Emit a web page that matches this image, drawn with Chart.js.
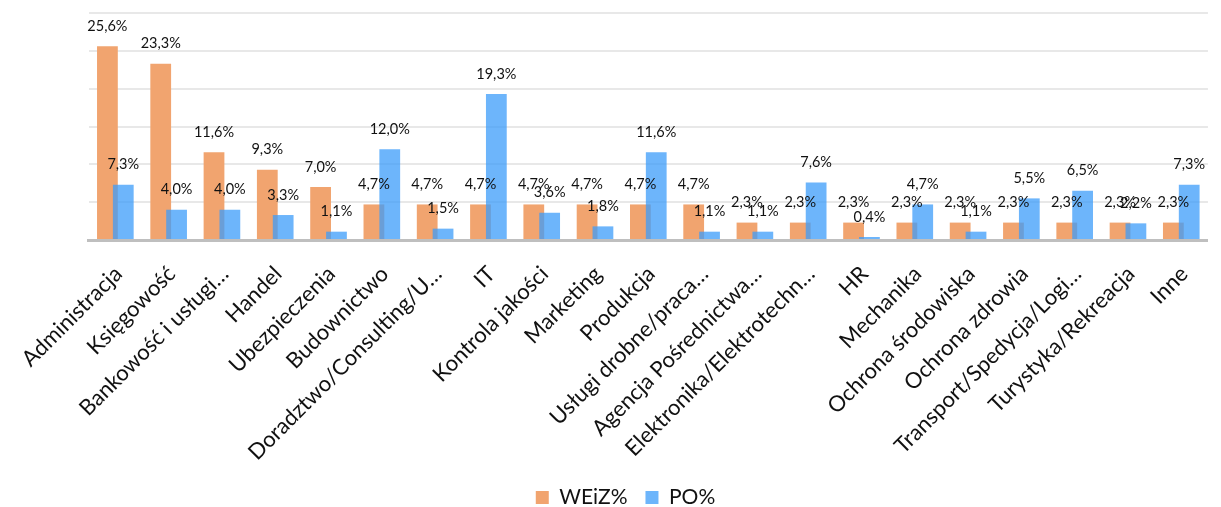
<!DOCTYPE html>
<html>
<head>
<meta charset="utf-8">
<script src="https://cdn.jsdelivr.net/npm/chart.js@4.4.1/dist/chart.umd.min.js"></script>
<style>
  html, body { margin: 0; padding: 0; background: #ffffff; }
  #wrap { width: 1221px; height: 507px; }
</style>
</head>
<body>
<div id="wrap"><canvas id="c" width="1221" height="507"></canvas></div>
<script>
const categories = [
  'Administracja', 'Księgowość', 'Bankowość i usługi…', 'Handel', 'Ubezpieczenia',
  'Budownictwo', 'Doradztwo/Consulting/U…', 'IT', 'Kontrola jakości', 'Marketing',
  'Produkcja', 'Usługi drobne/praca…', 'Agencja Pośrednictwa…', 'Elektronika/Elektrotechn…',
  'HR', 'Mechanika', 'Ochrona środowiska', 'Ochrona zdrowia', 'Transport/Spedycja/Logi…',
  'Turystyka/Rekreacja', 'Inne'
];
const weizValues = [25.6, 23.3, 11.6, 9.3, 7.0, 4.7, 4.7, 4.7, 4.7, 4.7, 4.7, 4.7, 2.3, 2.3, 2.3, 2.3, 2.3, 2.3, 2.3, 2.3, 2.3];
const poValues   = [7.3, 4.0, 4.0, 3.3, 1.1, 12.0, 1.5, 19.3, 3.6, 1.8, 11.6, 1.1, 1.1, 7.6, 0.4, 4.7, 1.1, 5.5, 6.5, 2.2, 7.3];
const seriesNames = ['WEiZ%', 'PO%'];
const yTickValues = [0, 5, 10, 15, 20, 25, 30];

function fmt(v) { return v.toFixed(1).replace('.', ',') + '%'; }

// draw orange first, blue (semi-transparent) on top, keeping orange on the left
const drawOrderPlugin = {
  id: 'drawOrder',
  beforeDatasetsDraw(chart) {
    for (let i = 0; i < chart.data.datasets.length; i++) {
      const meta = chart.getDatasetMeta(i);
      if (!meta.hidden) meta.controller.draw();
    }
    return false;
  }
};

const dataLabelPlugin = {
  id: 'dataLabels',
  afterDraw(chart) {
    const ctx = chart.ctx;
    ctx.save();
    ctx.font = '14.5px Lato';
    ctx.fillStyle = '#111111';
    ctx.textAlign = 'center';
    ctx.textBaseline = 'middle';
    chart.data.datasets.forEach((ds, i) => {
      const meta = chart.getDatasetMeta(i);
      meta.data.forEach((bar, j) => {
        ctx.fillText(fmt(ds.data[j]), bar.x, bar.y - 20);
      });
    });
    ctx.restore();
  }
};

function build() {
  new Chart(document.getElementById('c'), {
    type: 'bar',
    data: {
      labels: categories,
      datasets: [
        {
          label: seriesNames[0],
          data: weizValues,
          backgroundColor: '#F1A46F',
          barPercentage: 1.31,
          categoryPercentage: 0.595
        },
        {
          label: seriesNames[1],
          data: poValues,
          backgroundColor: 'rgba(60,156,250,0.75)',
          barPercentage: 1.31,
          categoryPercentage: 0.595
        }
      ]
    },
    options: {
      responsive: false,
      animation: false,
      devicePixelRatio: 1,
      layout: { padding: { left: 34, right: 4, top: 13, bottom: -11 } },
      plugins: {
        tooltip: { enabled: false },
        legend: {
          position: 'bottom',
          labels: {
            font: { family: 'Lato', size: 21 },
            color: '#111111',
            boxWidth: 13,
            boxHeight: 13,
            padding: 18
          }
        }
      },
      scales: {
        x: {
          afterFit(scale) { scale.height = 229; },
          grid: { display: false, drawTicks: false },
          border: { display: true, color: '#BFBFBF', width: 3 },
          ticks: {
            autoSkip: false,
            maxRotation: 45,
            minRotation: 45,
            padding: 21,
            labelOffset: 3,
            color: '#111111',
            font: { family: 'Lato', size: 22 }
          }
        },
        y: {
          min: 0,
          max: 30,
          afterFit(scale) { scale.width = 53; },
          afterBuildTicks(scale) { scale.ticks = yTickValues.map(v => ({ value: v })); },
          ticks: { display: false },
          grid: { color: '#E8E8E8', lineWidth: 2, drawTicks: false },
          border: { display: false }
        }
      }
    },
    plugins: [drawOrderPlugin, dataLabelPlugin]
  });
}
if (document.fonts && document.fonts.load) {
  document.fonts.load('19px Lato').then(build, build);
} else { build(); }
</script>
</body>
</html>
